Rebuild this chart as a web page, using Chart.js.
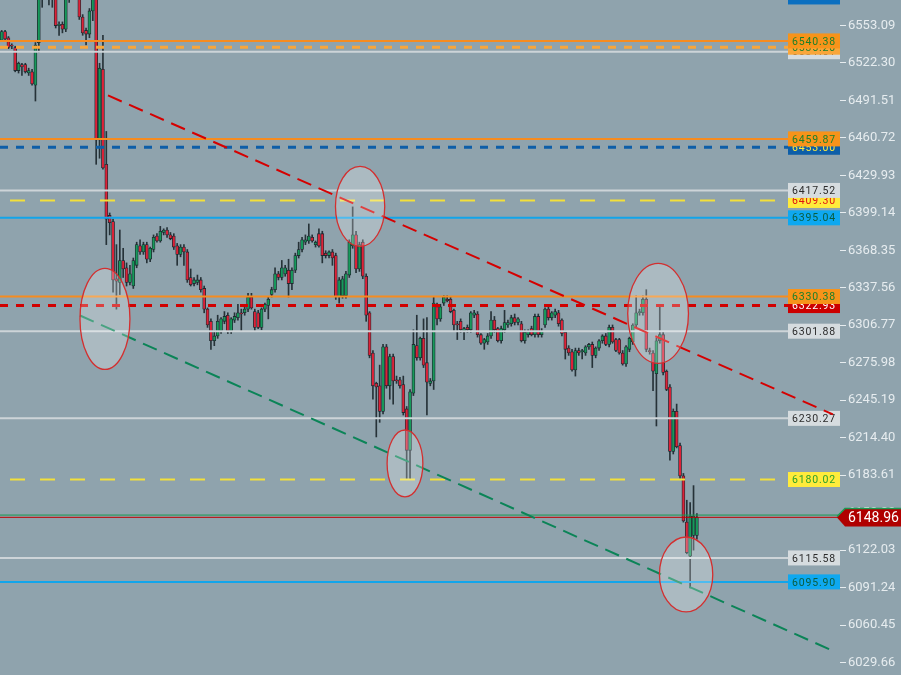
<!DOCTYPE html>
<html lang="en">
<head>
  <meta charset="UTF-8" />
  <title>Price levels</title>
  <script src="https://cdn.jsdelivr.net/npm/chart.js"></script>
  <style>
    html, body { margin: 0; padding: 0; background: #8fa3ad; overflow: hidden; }
    #wrap { width: 901px; height: 675px; position: relative; }
  </style>
</head>
<body>
  <div id="wrap"><canvas id="priceChart"></canvas></div>

  <script>
    // candles (one per bar, left to right)
    const opens = [6541,6548,6543,6537,6535,6516,6521,6521,6514,6515,6504,6539,6582,6590,6585,6592,6580,6553,6554,6550,
      6578,6585,6592,6586,6560,6549,6546,6565,6578,6459,6517,6439,6397,6392,6345,6342,6360,6354,6342,6339,
      6356,6372,6367,6373,6361,6369,6380,6376,6383,6385,6381,6380,6372,6365,6371,6367,6346,6341,6342,6344,
      6337,6320,6310,6294,6298,6302,6310,6315,6302,6311,6313,6317,6317,6320,6330,6318,6317,6305,6320,6323,
      6332,6336,6349,6346,6349,6352,6341,6352,6364,6369,6375,6376,6379,6373,6382,6382,6366,6364,6367,6364,
      6330,6331,6331,6348,6372,6381,6353,6375,6347,6317,6284,6259,6257,6236,6289,6257,6281,6262,6262,6258,
      6238,6204,6251,6290,6280,6296,6276,6259,6261,6322,6312,6325,6328,6328,6319,6308,6310,6302,6305,6303,
      6315,6316,6299,6292,6293,6298,6311,6304,6294,6303,6307,6308,6313,6309,6308,6294,6299,6304,6299,6314,
      6299,6307,6320,6313,6315,6317,6311,6301,6288,6285,6270,6286,6285,6284,6289,6291,6282,6288,6294,6298,
      6291,6305,6295,6295,6284,6275,6287,6293,6307,6317,6317,6328,6286,6284,6267,6294,6299,6269,6256,6203,
      6236,6208,6183,6145,6117,6134,6134];
    const highs = [6549,6549,6544,6538,6536,6523,6522,6522,6518,6517,6539,6585,6595,6600,6598,6600,6588,6556,6556,6582,
      6590,6598,6600,6590,6562,6551,6567,6585,6585,6522,6545,6466,6399,6394,6373,6385,6370,6358,6356,6362,
      6375,6377,6375,6375,6371,6381,6382,6388,6386,6387,6383,6382,6374,6373,6373,6369,6353,6346,6348,6346,
      6339,6321,6312,6302,6315,6313,6318,6317,6313,6317,6324,6320,6322,6333,6333,6320,6319,6321,6325,6330,
      6338,6354,6351,6360,6356,6361,6354,6366,6375,6379,6381,6390,6381,6376,6386,6384,6368,6368,6369,6366,
      6346,6347,6351,6377,6404,6384,6375,6377,6349,6318,6286,6260,6274,6291,6291,6283,6283,6265,6264,6265,
      6240,6254,6303,6315,6297,6312,6313,6263,6330,6325,6324,6331,6331,6330,6320,6310,6312,6305,6307,6318,
      6319,6318,6300,6296,6300,6318,6314,6305,6306,6319,6311,6315,6316,6313,6310,6303,6303,6306,6316,6316,
      6304,6321,6322,6318,6320,6319,6312,6302,6290,6287,6288,6288,6287,6290,6292,6293,6289,6295,6299,6300,
      6307,6307,6296,6296,6286,6290,6297,6308,6331,6320,6331,6336,6288,6286,6296,6323,6301,6270,6258,6238,
      6242,6210,6185,6163,6161,6175,6152];
    const lows = [6540,6541,6534,6534,6515,6514,6512,6514,6512,6504,6491,6531,6568,6575,6570,6568,6551,6545,6547,6548,
      6572,6578,6580,6558,6545,6537,6543,6557,6439,6444,6435,6373,6381,6334,6320,6332,6346,6339,6340,6337,
      6354,6365,6365,6358,6359,6367,6375,6375,6381,6379,6377,6369,6356,6363,6356,6342,6339,6339,6340,6334,
      6317,6305,6287,6290,6296,6300,6308,6300,6300,6309,6311,6302,6315,6318,6320,6302,6304,6303,6318,6312,
      6330,6334,6344,6344,6347,6330,6336,6350,6362,6367,6373,6374,6375,6371,6371,6358,6362,6362,6356,6328,
      6325,6329,6329,6346,6370,6350,6351,6345,6310,6280,6246,6215,6227,6234,6255,6246,6242,6259,6255,6233,
      6180,6180,6249,6278,6278,6272,6233,6257,6254,6307,6310,6323,6326,6317,6302,6295,6301,6295,6301,6301,
      6313,6297,6291,6287,6291,6296,6301,6293,6292,6301,6305,6306,6307,6307,6293,6292,6297,6298,6297,6297,
      6297,6305,6311,6311,6313,6306,6298,6279,6282,6269,6265,6282,6279,6282,6287,6272,6280,6286,6292,6290,
      6289,6292,6285,6283,6274,6273,6285,6291,6305,6315,6315,6285,6283,6253,6224,6292,6266,6253,6196,6201,
      6206,6181,6145,6119,6091,6122,6131];
    const closes = [6548,6542,6535,6536,6516,6522,6519,6515,6516,6505,6537,6580,6590,6585,6592,6580,6553,6554,6550,6578,
      6585,6592,6586,6560,6547,6546,6565,6578,6459,6518,6436,6394,6391,6344,6343,6360,6353,6342,6349,6360,
      6373,6367,6373,6361,6370,6379,6376,6384,6385,6381,6378,6371,6365,6371,6367,6344,6340,6344,6344,6336,
      6320,6307,6294,6298,6310,6312,6314,6302,6312,6314,6317,6316,6320,6330,6321,6305,6305,6320,6324,6328,
      6336,6349,6346,6354,6354,6341,6352,6364,6369,6377,6377,6380,6376,6375,6372,6364,6364,6367,6362,6330,
      6344,6345,6349,6375,6381,6353,6373,6347,6315,6282,6257,6256,6236,6289,6257,6281,6261,6261,6257,6235,
      6204,6252,6291,6280,6296,6274,6260,6261,6325,6312,6322,6330,6327,6318,6307,6307,6303,6304,6303,6317,
      6317,6299,6292,6295,6298,6311,6303,6294,6304,6309,6309,6313,6309,6312,6294,6301,6302,6299,6314,6299,
      6302,6320,6313,6317,6318,6308,6300,6287,6284,6270,6286,6284,6286,6289,6291,6282,6288,6294,6298,6291,
      6305,6293,6286,6284,6275,6289,6296,6307,6317,6318,6328,6287,6285,6269,6294,6299,6268,6254,6203,6236,
      6207,6183,6146,6120,6150,6150,6149];

    // right axis tick values
    const tickValues = [6553.09, 6522.30, 6491.51, 6460.72, 6429.93, 6399.14, 6368.35, 6337.56, 6306.77,
      6275.98, 6245.19, 6214.40, 6183.61, 6152.82, 6122.03, 6091.24, 6060.45, 6029.66];

    // horizontal levels and their tag colours
    const levelPrices = [6576.50, 6540.38, 6535.20, 6531.51, 6459.87, 6453.00, 6417.52, 6409.30, 6395.04,
      6330.38, 6322.93, 6301.88, 6230.27, 6180.02, 6115.58, 6095.90];
    const levelStyles = [
      { line: '#0b6fc0', width: 2, dash: [], box: '#0b6fc0', text: '#ffffff' },
      { line: '#f68b1f', width: 2, dash: [], box: '#f7931a', text: '#1b7f2a' },
      { line: '#f9a63a', width: 3, dash: [8, 8], box: '#f9a63a', text: '#1b7f2a' },
      { line: '#cdd4d8', width: 2, dash: [], box: '#d6dcdf', text: '#2b2b2b' },
      { line: '#f68b1f', width: 2, dash: [], box: '#f7931a', text: '#1b7f2a' },
      { line: '#0d5ea8', width: 3, dash: [8, 8], box: '#0d5ea8', text: '#ffeb3b' },
      { line: '#cdd4d8', width: 2, dash: [], box: '#d6dcdf', text: '#2b2b2b' },
      { line: '#f3e03a', width: 2, dash: [15, 15], box: '#ffeb3b', text: '#e01010' },
      { line: '#12a5ea', width: 2, dash: [], box: '#0ea8f0', text: '#0b5d3f' },
      { line: '#f68b1f', width: 2, dash: [], box: '#f7931a', text: '#1b7f2a' },
      { line: '#d10000', width: 3, dash: [8, 8], box: '#cc0000', text: '#ffffff' },
      { line: '#cdd4d8', width: 2, dash: [], box: '#d6dcdf', text: '#2b2b2b' },
      { line: '#cdd4d8', width: 2, dash: [], box: '#d6dcdf', text: '#2b2b2b' },
      { line: '#f3e03a', width: 2, dash: [15, 15], box: '#ffeb3b', text: '#2ba02b' },
      { line: '#cdd4d8', width: 2, dash: [], box: '#d6dcdf', text: '#2b2b2b' },
      { line: '#12a5ea', width: 2, dash: [], box: '#0ea8f0', text: '#0b5d3f' }
    ];

    const lastPrice = 6148.96;
    const lastOpenLine = 6150.80;

    // trend lines: [bar index, price] start and end
    const resistanceLine = [[31.5, 6495.6], [246.3, 6233.5]];
    const supportLine = [[23.2, 6314.8], [245.4, 6040.4]];

    // circled spots: centre bar, centre price, half width (bars), half height (price)
    const circleX = [30.6, 106.2, 119.5, 194.5, 202.8];
    const circleY = [6312.0, 6404.4, 6193.2, 6316.5, 6102.0];
    const circleRx = [7.4, 7.3, 5.3, 9.0, 7.9];
    const circleRy = [41.5, 32.9, 27.5, 41.1, 30.8];

    const X_MIN = -0.5, X_MAX = 248.4, LEVEL_END = 233;
    const Y_MIN = 6019.4, Y_MAX = 6574.0;

    //build datasets
    const bodyData = opens.map((o, i) => ({ x: i, y: [o, closes[i]] }));
    const wickData = lows.map((l, i) => ({ x: i, y: [l, highs[i]] }));
    const bodyColors = opens.map((o, i) => closes[i] >= o ? '#17995b' : '#dc2238');

    const levelSets = levelPrices.map((p, i) => ({
      type: 'line',
      data: [{ x: X_MIN, y: p }, { x: LEVEL_END, y: p }],
      borderColor: levelStyles[i].line,
      borderWidth: levelStyles[i].width,
      borderDash: levelStyles[i].dash,
      borderDashOffset: levelStyles[i].dash[0] === 15 ? 20 : 0,
      pointRadius: 0,
      order: 1
    }));

    const trendSet = (pts, color) => ({
      type: 'line',
      data: pts.map(p => ({ x: p[0], y: p[1] })),
      borderColor: color,
      borderWidth: 2,
      borderDash: [15, 8],
      pointRadius: 0,
      order: 0
    });

    // tags on the right for each level
    const levelTags = {
      id: 'levelTags',
      beforeDatasetsDraw(chart) {
        const { ctx, scales: { y } } = chart;
        ctx.save();
        ctx.font = '10.5px Roboto';
        ctx.letterSpacing = '0.8px';
        ctx.textAlign = 'center';
        ctx.textBaseline = 'middle';
        const idx = levelPrices.map((p, i) => i).sort((a, b) => levelPrices[a] - levelPrices[b]);
        idx.forEach(i => {
          const py = y.getPixelForValue(levelPrices[i]);
          ctx.fillStyle = levelStyles[i].box;
          ctx.fillRect(788, py - 7.5, 52, 15);
          if (py < 0) return; // tag mostly above the top edge
          ctx.fillStyle = levelStyles[i].text;
          ctx.fillText(levelPrices[i].toFixed(2), 814, py + 1);
        });
        ctx.restore();
      }
    };

    // translucent ellipses
    const circles = {
      id: 'circles',
      afterDatasetsDraw(chart) {
        const { ctx, scales: { x, y } } = chart;
        ctx.save();
        circleX.forEach((cx, i) => {
          const px = x.getPixelForValue(cx);
          const py = y.getPixelForValue(circleY[i]);
          const rx = x.getPixelForValue(cx + circleRx[i]) - px;
          const ry = y.getPixelForValue(circleY[i] - circleRy[i]) - py;
          ctx.beginPath();
          ctx.ellipse(px, py, rx, ry, 0, 0, Math.PI * 2);
          ctx.fillStyle = 'rgba(255,255,255,0.25)';
          ctx.fill();
          ctx.strokeStyle = '#d32f2f';
          ctx.lineWidth = 1.3;
          ctx.stroke();
        });
        ctx.restore();
      }
    };

    // last price tag over the axis
    const priceTag = {
      id: 'priceTag',
      afterDraw(chart) {
        const { ctx, scales: { y } } = chart;
        const py = Math.round(y.getPixelForValue(lastPrice)) + 0.5;
        ctx.save();
        ctx.beginPath();
        ctx.moveTo(837, py);
        ctx.lineTo(845, py - 9);
        ctx.lineTo(901, py - 9);
        ctx.lineTo(901, py + 9);
        ctx.lineTo(845, py + 9);
        ctx.closePath();
        ctx.fillStyle = '#b00000';
        ctx.fill();
        ctx.beginPath();
        ctx.moveTo(837, py - 1);
        ctx.lineTo(845, py - 9);
        ctx.lineTo(901, py - 9);
        ctx.strokeStyle = '#1a9850';
        ctx.lineWidth = 1.5;
        ctx.stroke();
        ctx.font = '14px Roboto';
        ctx.fillStyle = '#ffffff';
        ctx.textBaseline = 'middle';
        ctx.fillText(lastPrice.toFixed(2), 848, py + 1);
        ctx.restore();
      }
    };

    const ctx = document.getElementById('priceChart').getContext('2d');
    new Chart(ctx, {
      type: 'bar',
      data: {
        datasets: [
          trendSet(resistanceLine, '#d50000'),
          trendSet(supportLine, '#0b8457'),
          ...levelSets,
          {
            type: 'line',
            data: [{ x: X_MIN, y: lastOpenLine }, { x: 247.8, y: lastOpenLine }],
            borderColor: '#1a9850', borderWidth: 1, pointRadius: 0, order: 1
          },
          {
            type: 'line',
            data: [{ x: X_MIN, y: lastPrice }, { x: 247.8, y: lastPrice }],
            borderColor: '#c00000', borderWidth: 1, pointRadius: 0, order: 1
          },
          {
            data: bodyData,
            backgroundColor: bodyColors,
            borderColor: '#1f2a30',
            borderWidth: 0.8,
            borderSkipped: false,
            barThickness: 3,
            minBarLength: 1,
            grouped: false,
            order: 3
          },
          {
            data: wickData,
            backgroundColor: '#263238',
            borderWidth: 0,
            barThickness: 1,
            grouped: false,
            order: 4
          }
        ]
      },
      options: {
        responsive: true,
        maintainAspectRatio: false,
        animation: false,
        layout: { padding: 0, autoPadding: false },
        plugins: {
          legend: { display: false },
          tooltip: { enabled: false }
        },
        scales: {
          x: {
            type: 'linear',
            display: false,
            min: X_MIN,
            max: X_MAX,
            offset: false
          },
          y: {
            position: 'right',
            min: Y_MIN,
            max: Y_MAX,
            afterBuildTicks: scale => { scale.ticks = tickValues.map(v => ({ value: v })); },
            afterFit: scale => { scale.width = 61; scale.paddingTop = 0; scale.paddingBottom = 0; },
            border: { display: false },
            grid: { drawOnChartArea: false, drawTicks: true, tickLength: 6, tickColor: '#e6ecef' },
            ticks: {
              color: '#e6ecef',
              padding: 2,
              font: { family: 'Roboto', size: 13 },
              callback: v => v.toFixed(2)
            }
          }
        }
      },
      plugins: [levelTags, circles, priceTag]
    });
  </script>
</body>
</html>
